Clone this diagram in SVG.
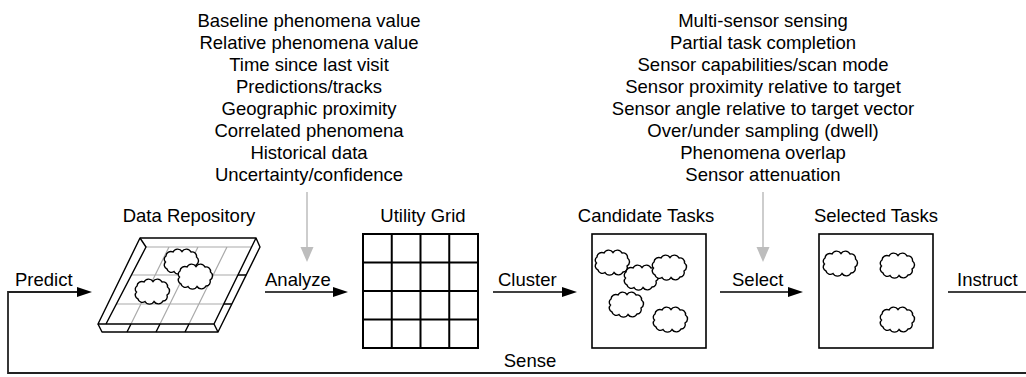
<svg xmlns="http://www.w3.org/2000/svg" xmlns:xlink="http://www.w3.org/1999/xlink" width="1026" height="377" viewBox="0 0 1026 377">
<style>
text{font-family:"Liberation Sans",Arial,Helvetica,sans-serif;font-size:18.5px;fill:#000}
.c{text-anchor:middle}
.ln{fill:none;stroke:#000;stroke-width:1.5}
.gray{fill:none;stroke:#bdbdbd;stroke-width:1.5}
.box{fill:#fff;stroke:#000;stroke-width:1.6}
.grid{fill:none;stroke:#000;stroke-width:2}
.tray{fill:none;stroke:#000;stroke-width:1.4;stroke-linejoin:round}
.tgrid{fill:none;stroke:#aaa;stroke-width:1.2}
</style>
<defs>
<marker id="ah" markerUnits="userSpaceOnUse" markerWidth="16" markerHeight="12" refX="12" refY="6" orient="auto">
<path d="M0,1 L15,6 L0,11 Z" fill="#000"/>
</marker>
<marker id="gah" markerUnits="userSpaceOnUse" markerWidth="16" markerHeight="14" refX="12" refY="7" orient="auto">
<path d="M0,0.5 L15,7 L0,13.5 Z" fill="#bdbdbd"/>
</marker>
<path id="cloud" d="M3,7 A4.8,4.8 0 0 1 10,3 A5.2,5.2 0 0 1 19,2.5 A5.2,5.2 0 0 1 28,3 A4.5,4.5 0 0 1 33.5,8 A4.7,4.7 0 0 1 33,16 A4.4,4.4 0 0 1 29,22 A5.2,5.2 0 0 1 20,22.5 A5.2,5.2 0 0 1 11,22.5 A4.5,4.5 0 0 1 4,20 A4.3,4.3 0 0 1 2.5,13 A3.8,3.8 0 0 1 3,7 Z" fill="#fff" stroke="#000" stroke-width="1.4"/>
</defs>
<rect width="1026" height="377" fill="#fff"/>

<g id="analysis-factors">
<text class="c" x="309" y="26.5">Baseline phenomena value</text>
<text class="c" x="309" y="48.6">Relative phenomena value</text>
<text class="c" x="309" y="70.7">Time since last visit</text>
<text class="c" x="309" y="92.8">Predictions/tracks</text>
<text class="c" x="309" y="114.9">Geographic proximity</text>
<text class="c" x="309" y="137">Correlated phenomena</text>
<text class="c" x="309" y="159.1">Historical data</text>
<text class="c" x="309" y="181.2">Uncertainty/confidence</text>
</g>

<g id="selection-factors">
<text class="c" x="763" y="26.5">Multi-sensor sensing</text>
<text class="c" x="763" y="48.6">Partial task completion</text>
<text class="c" x="763" y="70.7">Sensor capabilities/scan mode</text>
<text class="c" x="763" y="92.8">Sensor proximity relative to target</text>
<text class="c" x="763" y="114.9">Sensor angle relative to target vector</text>
<text class="c" x="763" y="137">Over/under sampling (dwell)</text>
<text class="c" x="763" y="159.1">Phenomena overlap</text>
<text class="c" x="763" y="181.2">Sensor attenuation</text>
</g>

<g id="data-repository">
<text class="c" x="189" y="222">Data Repository</text>
<path class="tgrid" d="M146,247 H251.6 M131.4,275 H237.9 M116.4,304 H223.8 M169,247 L131,324 M198,247 L160,324 M227,247 L189,324"/>
<path class="tray" d="M140,238 H256 L214,324 H98 Z"/>
<path class="tray" d="M98,324 L102,332 H218 L214,324"/>
<path class="tray" d="M256,238 L260,247 L218,332"/>
<path class="tray" d="M140,238 L146,247 L106,324"/>
<path class="tray" d="M131,324 L127,332 M160,324 L156,332 M189,324 L185,332 M237.9,275 H246.2 M223.8,304 H231.9"/>
<use xlink:href="#cloud" x="163" y="249"/>
<use xlink:href="#cloud" x="177" y="264"/>
<use xlink:href="#cloud" x="134" y="279"/>
</g>

<g id="utility-grid">
<text class="c" x="423" y="222">Utility Grid</text>
<rect class="grid" x="363" y="234" width="115" height="114"/>
<path class="grid" d="M391.75,234 V348 M420.5,234 V348 M449.25,234 V348 M363,262.5 H478 M363,291 H478 M363,319.5 H478"/>
</g>

<g id="candidate-tasks">
<text class="c" x="646" y="222">Candidate Tasks</text>
<rect class="box" x="592" y="234" width="114" height="114"/>
<use xlink:href="#cloud" x="594" y="250"/>
<use xlink:href="#cloud" x="623" y="265"/>
<use xlink:href="#cloud" x="651" y="255"/>
<use xlink:href="#cloud" x="608" y="292"/>
<use xlink:href="#cloud" x="652" y="307"/>
</g>

<g id="selected-tasks">
<text class="c" x="876" y="222">Selected Tasks</text>
<rect class="box" x="819" y="234" width="114" height="114"/>
<use xlink:href="#cloud" x="822" y="251"/>
<use xlink:href="#cloud" x="879" y="253"/>
<use xlink:href="#cloud" x="879" y="307"/>
</g>

<g id="connectors">
<path d="M1026,373 H8 V292 H89" fill="none" stroke="#222" stroke-width="1.8" marker-end="url(#ah)"/>
<text x="15" y="286">Predict</text>
<path class="ln" d="M265,292 H345" marker-end="url(#ah)"/>
<text x="265" y="286">Analyze</text>
<path class="ln" d="M493,292 H574" marker-end="url(#ah)"/>
<text x="498" y="286">Cluster</text>
<path class="ln" d="M720,292 H800" marker-end="url(#ah)"/>
<text x="732" y="286">Select</text>
<path class="ln" d="M948,292 H1026"/>
<text x="957" y="286">Instruct</text>
<path class="gray" d="M307,192 V259" marker-end="url(#gah)"/>
<path class="gray" d="M763,192 V259" marker-end="url(#gah)"/>
<text class="c" x="530" y="367">Sense</text>
</g>
</svg>
